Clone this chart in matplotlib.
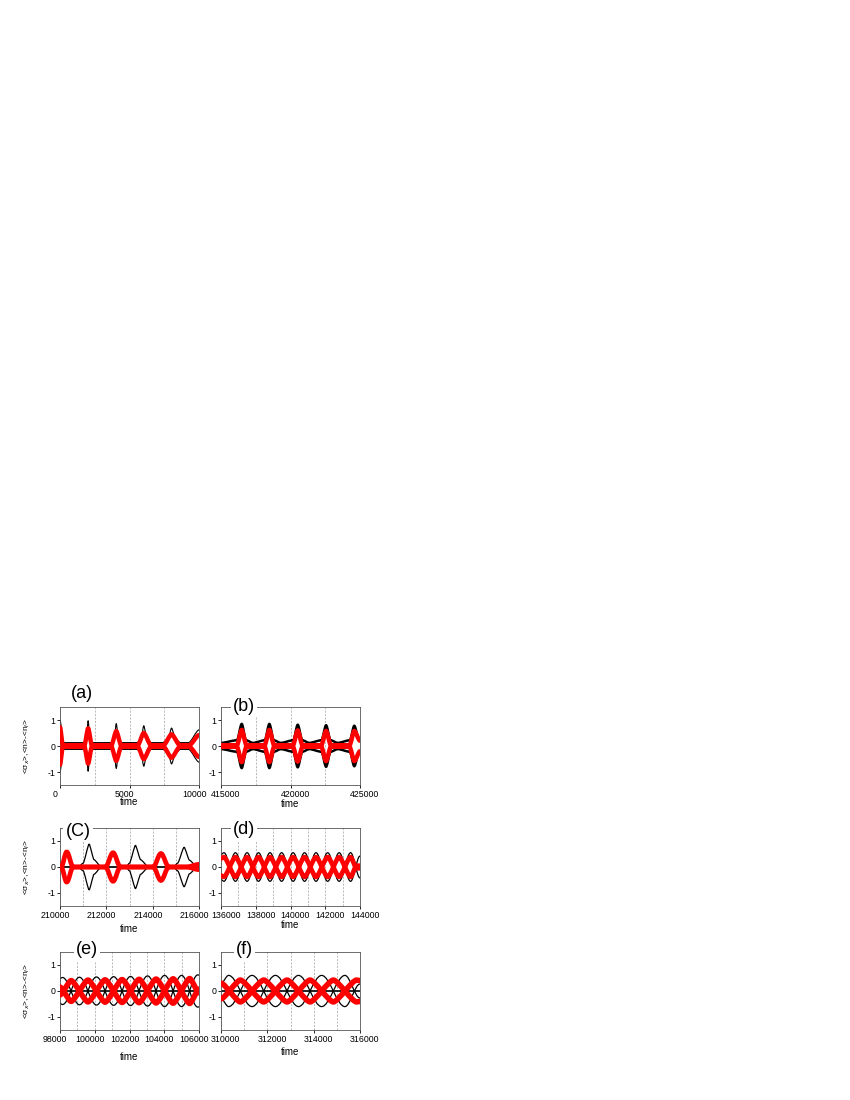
import matplotlib
matplotlib.use("Agg")
import matplotlib.pyplot as plt
from matplotlib.path import Path
from matplotlib.patches import PathPatch
from matplotlib.transforms import ScaledTranslation

plt.rcParams["font.family"] = ["Liberation Sans", "DejaVu Sans"]
plt.rcParams["axes.unicode_minus"] = False

# --- values (upper envelopes / extrema of each curve) ---

# (a)
A_T_BLACK = [0, 250, 1700, 1900, 2024, 2150, 2330, 3650, 3900, 4048, 4200, 4430,
             5550, 5850, 6024, 6250, 6560, 7400, 7800, 8024, 8300, 8650, 9250, 10000]
A_BLACK = [1.0, 0.13, 0.13, 0.3, 0.97, 0.3, 0.13, 0.13, 0.3, 0.86, 0.3, 0.13,
           0.13, 0.3, 0.78, 0.3, 0.13, 0.13, 0.3, 0.69, 0.3, 0.13, 0.13, 0.62]
A_T_RED = [0, 200, 1760, 2024, 2290, 3700, 4048, 4400, 5600, 6024, 6540, 7450, 8024, 8620, 9300, 10000]
A_RED = [0.72, 0.03, 0.03, 0.68, 0.03, 0.03, 0.57, 0.03, 0.03, 0.5, 0.03, 0.03, 0.45, 0.03, 0.03, 0.42]

# (b)
B_T_BLACK = [415000, 416150, 416490, 416800, 417300, 418150, 418480, 418800, 419300, 420200, 420520,
             420850, 421350, 422230, 422560, 422880, 423400, 424270, 424590, 424900, 425000]
B_BLACK = [0.12, 0.22, 0.85, 0.22, 0.12, 0.22, 0.85, 0.22, 0.12, 0.22, 0.82,
           0.22, 0.12, 0.22, 0.8, 0.22, 0.12, 0.22, 0.78, 0.3, 0.28]
B_T_RED = [415000, 416150, 416490, 416830, 418140, 418480, 418820, 420180, 420520, 420860,
           422220, 422560, 422900, 424250, 424590, 425000]
B_RED = [0.03, 0.03, 0.62, 0.03, 0.03, 0.62, 0.03, 0.03, 0.6, 0.03,
         0.03, 0.58, 0.03, 0.03, 0.58, 0.2]

# (c)
C_T_BLACK = [210000, 210800, 211000, 211257, 211470, 211780, 212850, 213000, 213257, 213480,
             213820, 214900, 215080, 215357, 215590, 215920, 216000]
C_BLACK = [0, 0, 0.15, 0.88, 0.28, 0, 0, 0.15, 0.83, 0.28,
           0, 0, 0.15, 0.76, 0.26, 0, 0]
C_T_RED = [210000, 210050, 210290, 210570, 211960, 212290, 212610, 214020, 214357, 214700, 215450, 216000]
C_RED = [0, 0, 0.58, 0, 0, 0.55, 0, 0, 0.52, 0, 0, 0.1]

# (d)
D_T_BLACK = [136000, 136170, 136830, 137500, 138160, 138820, 139490, 140150,
             140810, 141470, 142140, 142800, 143460, 144000]
D_BLACK = [0.48, 0.55, -0.55, 0.55, -0.55, 0.55, -0.55, 0.55,
           -0.55, 0.55, -0.55, 0.55, -0.55, 0.42]
D_T_RED = [136000, 136170, 136830, 137500, 138160, 138820, 139490, 140150,
           140810, 141470, 142140, 142800, 143460, 143800, 144000]
D_RED = [0.33, 0.38, -0.38, 0.38, -0.38, 0.38, -0.38, 0.38,
         -0.38, 0.38, -0.38, 0.38, -0.38, 0.05, 0.05]

# (e)
E_T_BLACK = [98000, 98150, 99120, 100100, 101090, 102060, 103040, 104020, 105000, 105930, 106000]
E_BLACK = [0.48, 0.52, -0.53, 0.54, -0.55, 0.56, -0.58, 0.6, -0.6, 0.62, 0.61]
E_T_RED = [98000, 98640, 99610, 100595, 101575, 102550, 103530, 104510, 105465, 106000]
E_RED = [-0.15, 0.4, -0.42, 0.43, -0.44, 0.45, -0.46, 0.47, -0.48, 0.07]

# (f)
F_T_BLACK = [310000, 310330, 311340, 312350, 313345, 314345, 315350, 316000]
F_BLACK = [0.3, 0.6, -0.6, 0.6, -0.6, 0.6, -0.6, 0.27]
F_T_RED = [310000, 310835, 311845, 312850, 313845, 314850, 315850, 316000]
F_RED = [0.3, -0.42, 0.42, -0.42, 0.42, -0.42, 0.42, 0.4]

YLABEL = "<σ$_x$>,<n>-<n$_l$>"


def curve(ax, ts, ys, k, sign, **kw):
    # smooth line through the read points (horizontal tangents at each point)
    pts = [(t, sign * y) for t, y in zip(ts, ys)]
    verts = [pts[0]]
    codes = [Path.MOVETO]
    for (t0, y0), (t1, y1) in zip(pts[:-1], pts[1:]):
        dt = t1 - t0
        verts += [(t0 + k * dt, y0), (t1 - k * dt, y1), (t1, y1)]
        codes += [Path.CURVE4] * 3
    ax.add_patch(PathPatch(Path(verts, codes), fill=False, capstyle="round",
                           joinstyle="round", **kw))


panels = [
    dict(tag="(a)", xlim=(0, 10000), major=[0, 5000, 10000], minor=[2500, 7500],
         black=(A_T_BLACK, A_BLACK, 0.25, 0.8), red=(A_T_RED, A_RED, 0.25, 3.2),
         zero=False, pos=(60, 707), lab=(0.157, 1.167), xl=-0.16, ylab=True),
    dict(tag="(b)", xlim=(415000, 425000), major=[415000, 420000, 425000], minor=[417500, 422500],
         black=(B_T_BLACK, B_BLACK, 0.3, 1.8), red=(B_T_RED, B_RED, 0.25, 3.2),
         zero=False, pos=(221, 707), lab=(0.165, 1.01), xl=-0.18, ylab=False),
    dict(tag="(C)", xlim=(210000, 216000), major=[210000, 212000, 214000, 216000],
         minor=[211000, 213000, 215000],
         black=(C_T_BLACK, C_BLACK, 0.2, 0.9), red=(C_T_RED, C_RED, 0.35, 3.4),
         zero=False, pos=(60, 828), lab=(0.129, 0.96), xl=-0.225, ylab=True),
    dict(tag="(d)", xlim=(136000, 144000), major=[136000, 138000, 140000, 142000, 144000],
         minor=[137000, 139000, 141000, 143000],
         black=(D_T_BLACK, D_BLACK, 0.35, 0.9), red=(D_T_RED, D_RED, 0.25, 3.4),
         zero=False, pos=(221, 828), lab=(0.165, 0.975), xl=-0.175, ylab=False),
    dict(tag="(e)", xlim=(98000, 106000), major=[98000, 100000, 102000, 104000, 106000],
         minor=[99000, 101000, 103000, 105000],
         black=(E_T_BLACK, E_BLACK, 0.35, 0.9), red=(E_T_RED, E_RED, 0.2, 4.0),
         zero=True, pos=(60, 952), lab=(0.193, 1.026), xl=-0.28, ylab=True),
    dict(tag="(f)", xlim=(310000, 316000), major=[310000, 312000, 314000, 316000],
         minor=[311000, 313000, 315000],
         black=(F_T_BLACK, F_BLACK, 0.35, 0.9), red=(F_T_RED, F_RED, 0.2, 4.0),
         zero=True, pos=(221, 952), lab=(0.168, 1.026), xl=-0.22, ylab=False),
]

W, H = 850, 1100
fig = plt.figure(figsize=(W / 100, H / 100), dpi=100)

for p in panels:
    x0, y0 = p["pos"]
    ax = fig.add_axes([x0 / W, 1 - (y0 + 78) / H, 139 / W, 78 / H])
    ax.set_xlim(*p["xlim"])
    ax.set_ylim(-1.5, 1.5)
    ax.set_xticks(p["major"])
    ax.set_xticks(p["minor"], minor=True)
    ax.set_yticks([-1, 0, 1])
    ax.tick_params(which="major", direction="out", length=2, width=0.6, labelsize=6.3, pad=1.5)
    ax.tick_params(which="minor", length=0)
    ax.grid(axis="x", which="both", color="#a0a0a0", linestyle=(0, (3, 2)), linewidth=0.5, zorder=0)
    for s in ax.spines.values():
        s.set_linewidth(0.6)
        s.set_color("#555555")

    # the left column's tick labels sit a little left of their ticks, the right column's a little right
    shift = -3.5 if p["ylab"] else 3.5
    for lbl in ax.get_xticklabels():
        lbl.set_transform(lbl.get_transform() + ScaledTranslation(shift / 72, 0, fig.dpi_scale_trans))

    tb, yb, kb, lwb = p["black"]
    tr, yr, kr, lwr = p["red"]
    if p["zero"]:
        ax.axhline(0, color="black", lw=1.2, zorder=2)
    for sgn in (1, -1):
        curve(ax, tb, yb, kb, sgn, edgecolor="black", lw=lwb, zorder=2)
    for sgn in (1, -1):
        curve(ax, tr, yr, kr, sgn, edgecolor="#ff0000", lw=lwr, zorder=3)

    ax.set_xlabel("time", fontsize=7)
    ax.xaxis.set_label_coords(0.5, p["xl"])
    if p["ylab"]:
        ax.set_ylabel(YLABEL, fontsize=6)
        ax.yaxis.set_label_coords(-0.2, 0.5)

    ax.text(p["lab"][0], p["lab"][1], p["tag"], transform=ax.transAxes, fontsize=13,
            ha="center", va="center", zorder=10, clip_on=False,
            bbox=dict(facecolor="white", edgecolor="none", pad=1.5))

fig.savefig("out.png", dpi=100)
